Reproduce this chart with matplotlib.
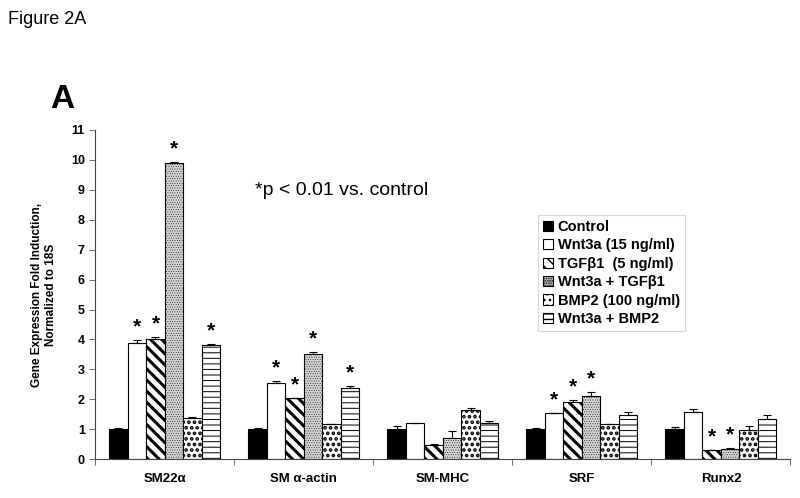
import numpy as np
import matplotlib.pyplot as plt

genes = ['SM22\u03b1', 'SM \u03b1-actin', 'SM-MHC', 'SRF', 'Runx2']
treatments = ['Control', 'Wnt3a (15 ng/ml)', 'TGF\u03b21  (5 ng/ml)',
              'Wnt3a + TGF\u03b21', 'BMP2 (100 ng/ml)', 'Wnt3a + BMP2']

# rows = treatments, cols = genes
means = [
    [1.00, 1.00, 1.00, 1.00, 1.00],
    [3.87, 2.56, 1.20, 1.55, 1.58],
    [4.00, 2.03, 0.46, 1.91, 0.29],
    [9.90, 3.53, 0.70, 2.11, 0.34],
    [1.36, 1.17, 1.64, 1.16, 0.98],
    [3.83, 2.39, 1.22, 1.49, 1.35],
]
errs = [
    [0.03, 0.03, 0.12, 0.03, 0.09],
    [0.11, 0.04, 0.00, 0.00, 0.08],
    [0.07, 0.00, 0.05, 0.06, 0.02],
    [0.03, 0.05, 0.23, 0.15, 0.02],
    [0.04, 0.00, 0.06, 0.00, 0.13],
    [0.02, 0.05, 0.05, 0.09, 0.12],
]
# significance stars (treatment index, gene index)
stars = [(1, 0), (2, 0), (3, 0), (5, 0),
         (1, 1), (2, 1), (3, 1), (5, 1),
         (1, 3), (2, 3), (3, 3),
         (2, 4), (3, 4)]

faces = ['black', 'white', 'white', '#d4d4d4', 'white', 'white']
hatches = [None, None, '\\\\\\', '.......', '...', '---']
hatch_lw = [1, 1, 2.2, 0.3, 1.8, 0.7]

plt.rcParams['font.family'] = ['Liberation Sans', 'DejaVu Sans']

fig = plt.figure(figsize=(8, 4.98), dpi=100)
ax = fig.add_axes([0.119, 0.078, 0.869, 0.661])

x = np.arange(len(genes))
w = 0.133
for i in range(len(treatments)):
    pos = x + (i - 2.5) * w
    with plt.rc_context({'hatch.linewidth': hatch_lw[i]}):
        ax.bar(pos, means[i], w, color=faces[i], edgecolor='black', linewidth=0.8,
               hatch=hatches[i], label=treatments[i], zorder=2)
    up = np.array(errs[i])
    ax.errorbar(pos, means[i], yerr=[np.zeros_like(up), up], fmt='none',
                ecolor='black', elinewidth=0.8, capsize=3, capthick=0.8, zorder=3)

for i, j in stars:
    top = means[i][j] + errs[i][j]
    ax.text(x[j] + (i - 2.5) * w, top + 0.12, '*', ha='center', va='bottom',
            fontsize=15, fontweight='bold')

ax.set_xlim(-0.5, len(genes) - 0.5)
ax.set_ylim(0, 11)
ax.set_yticks(range(12))
ax.set_yticklabels([str(v) for v in range(12)], fontsize=9, fontweight='bold')
ax.set_xticks(x)
ax.set_xticklabels(genes, fontsize=9.5, fontweight='bold')
ax.tick_params(axis='x', which='major', length=0, pad=10)
ax.set_xticks(np.arange(-0.5, len(genes)), minor=True)
ax.tick_params(axis='x', which='minor', length=4, width=0.6, color='#555555')
ax.tick_params(axis='y', length=4, width=0.6, color='#555555')
for s in ['top', 'right']:
    ax.spines[s].set_visible(False)
for s in ['left', 'bottom']:
    ax.spines[s].set_linewidth(0.8)
    ax.spines[s].set_color('#444444')

ax.set_ylabel('Gene Expression Fold Induction,\nNormalized to 18S',
              fontsize=8.5, fontweight='bold', labelpad=10)

leg = ax.legend(loc='upper left', bbox_to_anchor=(0.637, 0.742), frameon=True,
                fancybox=False, edgecolor='#cccccc', prop={'weight': 'bold', 'size': 10.5},
                handlelength=0.7, handleheight=0.7, handletextpad=0.3,
                labelspacing=0.3, borderpad=0.35, borderaxespad=0)
leg.get_frame().set_linewidth(0.8)

ax.text(0.355, 0.815, '*p < 0.01 vs. control', transform=ax.transAxes,
        ha='center', va='center', fontsize=14)
fig.text(0.01, 0.96, 'Figure 2A', fontsize=13, va='center')
fig.text(0.063, 0.8, 'A', fontsize=24, fontweight='bold', va='center')

fig.savefig('out.png', dpi=100)
